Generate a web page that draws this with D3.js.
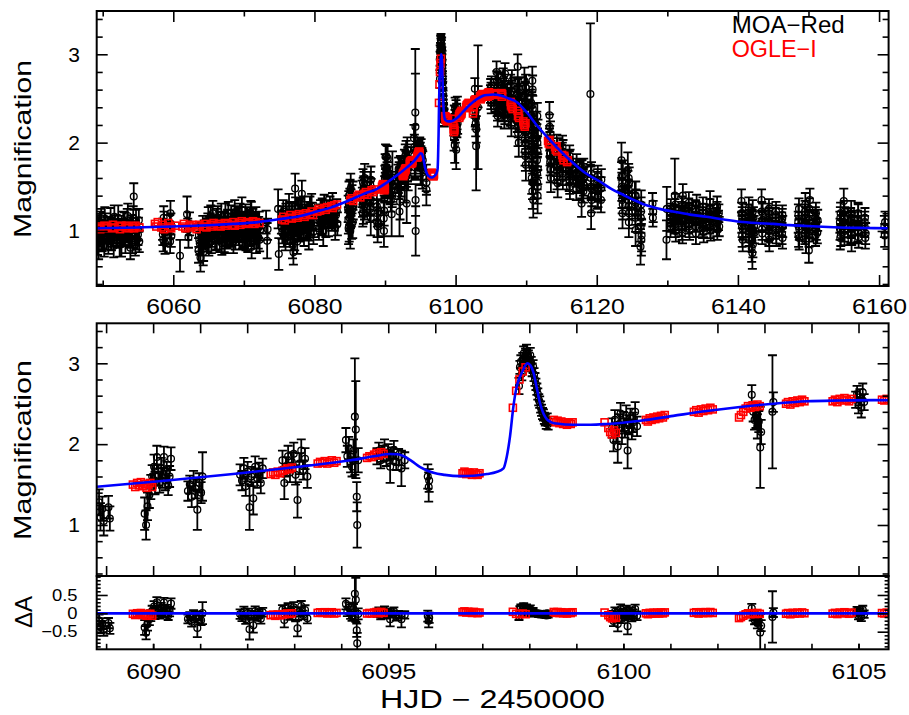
<!DOCTYPE html>
<html>
<head>
<meta charset="utf-8">
<script src="https://cdn.jsdelivr.net/npm/d3@7"></script>
<style>
  body { margin: 0; background: #fff; }
  svg { display: block; }
  text { font-family: "Liberation Sans", Arial, Helvetica, sans-serif; }
</style>
</head>
<body>
<svg id="chart" width="909" height="715"></svg>
<script>
// ---------------- MOA-Red: [HJD-2450000, magnification, error] ----------------
const moaEarly = [
  [6049.20,0.98,0.12],[6049.26,0.86,0.13],[6049.32,1.06,0.12],[6049.35,0.95,0.13],[6049.42,0.82,0.14],[6049.52,1.02,0.11],[6049.58,1.10,0.12],[6049.62,0.94,0.12],[6049.78,1.12,0.13],[6049.85,1.00,0.13],[6049.92,0.89,0.12],
  [6050.05,0.91,0.12],[6050.12,1.00,0.12],[6050.22,0.84,0.13],[6050.30,1.14,0.13],[6050.36,1.08,0.12],[6050.52,0.92,0.13],[6050.60,0.99,0.12],[6050.68,1.04,0.12],[6050.80,0.88,0.14],[6050.90,0.97,0.11],
  [6051.05,1.03,0.12],[6051.12,1.13,0.13],[6051.24,0.90,0.12],[6051.32,0.95,0.13],[6051.40,1.01,0.12],[6051.56,0.83,0.13],[6051.65,1.16,0.13],[6051.74,1.06,0.12],[6051.90,0.95,0.12],[6051.98,0.98,0.12],
  [6052.08,0.93,0.12],[6052.15,1.05,0.12],[6052.20,1.15,0.14],[6052.40,0.87,0.16],[6052.48,0.99,0.13],[6052.54,1.03,0.11],[6052.66,0.85,0.14],[6052.74,0.96,0.13],[6052.90,1.10,0.12],[6052.98,1.02,0.12],
  [6053.08,1.09,0.12],[6053.15,0.95,0.12],[6053.22,0.88,0.13],[6053.38,1.00,0.12],[6053.48,1.12,0.13],[6053.56,1.17,0.14],[6053.66,0.99,0.12],[6053.76,0.93,0.12],[6053.92,0.81,0.13],[6053.98,1.06,0.12],
  [6054.08,1.05,0.13],[6054.15,0.94,0.13],[6054.22,0.87,0.12],[6054.32,1.15,0.13],[6054.40,1.39,0.15],[6054.54,0.98,0.12],[6054.62,0.85,0.13],[6054.72,1.11,0.13],[6054.82,1.03,0.12],[6054.90,0.91,0.12],
  [6055.00,0.96,0.12],[6055.06,1.02,0.13],[6055.12,1.12,0.13],[6055.18,0.88,0.12],
  [6058.48,1.02,0.12],[6058.52,0.96,0.12],[6058.58,0.90,0.13],[6058.64,1.15,0.13],[6058.70,1.10,0.12],[6058.78,0.98,0.12],[6058.84,0.86,0.12],
  [6059.50,1.05,0.13],[6059.55,0.88,0.13],[6059.60,1.20,0.14],[6059.66,1.08,0.12],[6059.72,0.94,0.12],
  [6060.95,0.72,0.18],
  [6061.95,1.19,0.20],[6062.05,1.02,0.12],[6062.15,0.93,0.12],[6062.30,1.08,0.13],
  [6063.58,0.78,0.14],[6063.62,0.95,0.13],[6063.68,0.90,0.13],[6063.75,0.86,0.13],[6063.85,0.70,0.16],[6063.92,0.98,0.12],[6064.04,0.84,0.12],[6064.10,0.92,0.12],
  [6064.18,1.05,0.12],[6064.24,0.76,0.15],[6064.30,0.80,0.14],[6064.38,1.00,0.12],[6064.44,0.93,0.12],
  [6064.70,1.02,0.12],[6064.76,0.95,0.12],[6064.82,0.90,0.13],[6064.90,1.08,0.12],[6064.96,1.14,0.13],[6065.04,0.85,0.13],[6065.10,0.97,0.12],[6065.17,1.03,0.12],
  [6065.24,1.08,0.12],[6065.32,1.16,0.13],[6065.40,0.88,0.13],[6065.50,0.94,0.12],[6065.60,1.20,0.14],[6065.70,1.05,0.12],[6065.80,1.00,0.12],[6065.92,0.91,0.13],
  [6066.05,1.06,0.12],[6066.12,1.12,0.13],[6066.18,0.92,0.13],[6066.25,0.98,0.12],[6066.32,1.15,0.13],[6066.42,1.04,0.12],[6066.50,0.99,0.12],[6066.60,0.89,0.13],
  [6066.70,1.10,0.12],[6066.80,1.18,0.13],[6066.88,0.86,0.13],[6066.95,1.00,0.12],
  [6067.08,1.04,0.12],[6067.15,1.10,0.12],[6067.22,0.90,0.14],[6067.30,0.87,0.12],[6067.38,1.18,0.13],[6067.45,1.02,0.12],[6067.52,0.96,0.12],[6067.62,0.93,0.13],
  [6067.70,1.12,0.12],[6067.80,1.20,0.13],[6067.90,1.01,0.13],[6067.96,0.97,0.12],
  [6068.06,0.94,0.12],[6068.13,1.08,0.12],[6068.20,1.16,0.13],[6068.28,0.95,0.13],[6068.36,1.03,0.12],[6068.44,1.12,0.12],[6068.52,0.88,0.13],[6068.62,0.99,0.12],
  [6068.70,1.21,0.14],[6068.80,0.92,0.13],[6068.88,1.07,0.12],[6068.95,1.15,0.13],
  [6069.06,0.99,0.12],[6069.13,1.05,0.12],[6069.20,1.13,0.13],[6069.28,0.96,0.12],[6069.36,0.91,0.12],[6069.45,1.18,0.13],[6069.54,1.09,0.12],[6069.62,1.00,0.12],
  [6069.72,1.24,0.14],[6069.80,0.93,0.13],[6069.90,1.02,0.12],[6069.96,1.10,0.12],
  [6070.06,0.95,0.13],[6070.14,1.02,0.12],[6070.22,1.17,0.13],[6070.30,0.91,0.13],[6070.38,1.05,0.12],[6070.46,1.14,0.13],[6070.56,0.89,0.13],[6070.65,1.06,0.12],
  [6070.74,1.12,0.12],[6070.83,0.95,0.12],[6070.92,1.00,0.12],[6070.98,1.20,0.14],
  [6071.06,1.19,0.14],[6071.10,0.82,0.13],[6071.14,1.00,0.12],[6071.28,1.12,0.13],[6071.36,1.08,0.12],[6071.44,0.92,0.12],[6071.52,0.97,0.12],[6071.60,1.05,0.12],
  [6071.70,1.14,0.13],[6071.78,0.88,0.13],[6071.88,1.03,0.12],[6071.95,1.10,0.12],
  [6072.04,0.93,0.13],[6072.10,1.04,0.12],[6072.18,1.10,0.12],[6072.24,0.90,0.13],[6072.30,1.01,0.12],
  [6073.15,1.10,0.13],[6073.30,0.89,0.20],[6073.36,1.02,0.12],
  [6074.85,1.25,0.22],[6074.95,0.74,0.18],
  [6075.32,1.10,0.13],[6075.38,1.03,0.12],[6075.44,0.98,0.12],[6075.50,1.15,0.13],[6075.58,1.22,0.13],[6075.66,0.95,0.13],[6075.74,1.05,0.12],[6075.82,1.08,0.12],
  [6075.90,0.92,0.14],[6075.96,1.18,0.13],
  [6076.10,1.15,0.13],[6076.17,0.98,0.13],[6076.24,1.02,0.12],[6076.32,1.08,0.12],[6076.40,1.28,0.14],[6076.48,1.20,0.13],[6076.56,0.95,0.13],[6076.65,1.05,0.12],
  [6076.74,1.12,0.12],[6076.82,1.18,0.13],[6076.90,0.84,0.15],[6076.96,1.00,0.13],
  [6077.02,0.76,0.14],[6077.08,1.10,0.13],[6077.14,1.20,0.13],[6077.20,0.92,0.14],[6077.26,1.48,0.17],[6077.33,1.25,0.13],[6077.40,1.06,0.12],[6077.48,1.12,0.12],
  [6077.56,0.88,0.14],[6077.65,1.02,0.13],[6077.74,1.16,0.13],[6077.82,1.22,0.13],[6077.90,1.00,0.12],[6077.96,1.08,0.12],
  [6078.08,1.24,0.13],[6078.15,1.05,0.13],[6078.22,1.42,0.15],[6078.29,1.15,0.12],[6078.36,1.09,0.12],[6078.44,1.02,0.12],[6078.52,0.96,0.13],[6078.60,1.26,0.13],
  [6078.70,1.18,0.12],[6078.78,1.10,0.12],[6078.88,1.04,0.13],[6078.95,1.20,0.13],
  [6079.06,1.13,0.12],[6079.13,1.02,0.13],[6079.20,0.93,0.14],[6079.28,1.16,0.12],[6079.36,1.26,0.13],[6079.44,1.05,0.12],[6079.52,1.08,0.12],[6079.60,1.28,0.14],
  [6079.70,1.19,0.13],[6079.78,1.12,0.12],[6079.86,0.99,0.14],[6079.93,1.06,0.13],
  [6080.64,1.03,0.13],[6080.70,1.14,0.12],[6080.78,1.18,0.12],[6080.86,1.22,0.13],[6080.94,1.10,0.13],[6081.02,1.08,0.13],[6081.10,1.24,0.13],[6081.18,1.16,0.12],
  [6081.25,1.00,0.17],[6081.38,1.28,0.13],[6081.50,1.15,0.12],[6081.62,1.06,0.13],[6081.76,1.21,0.13],[6081.88,1.16,0.12],[6082.00,1.08,0.14],[6082.10,1.22,0.13],
  [6082.20,1.26,0.13],[6082.32,1.15,0.12],[6082.44,1.12,0.12],[6082.56,1.30,0.13],[6082.70,1.19,0.13],[6082.82,1.12,0.12],[6082.94,1.04,0.14],[6083.05,1.18,0.13],
  [6083.16,1.23,0.13],[6083.25,1.08,0.13],
  [6084.78,1.25,0.15],[6084.81,1.12,0.15],[6084.84,1.03,0.18],[6084.87,1.30,0.15],[6084.90,1.40,0.16],[6084.93,1.05,0.17],[6084.96,1.15,0.15],[6084.99,1.22,0.15],
  [6085.02,1.32,0.16],[6085.05,1.42,0.16],[6085.08,1.00,0.20],[6085.11,1.18,0.15],[6085.14,1.48,0.17],[6085.18,1.32,0.15],[6085.22,1.20,0.15],[6085.27,1.08,0.17],
  [6085.32,1.36,0.16],[6085.37,1.25,0.15],[6085.42,1.10,0.18],[6085.46,1.40,0.16],[6085.50,1.28,0.15],
  [6086.76,1.42,0.15],[6086.79,1.35,0.14],[6086.82,1.30,0.14],[6086.85,1.20,0.15],[6086.88,1.55,0.15],[6086.91,1.45,0.15],[6086.94,1.24,0.16],[6086.97,1.32,0.14],
  [6087.00,1.48,0.14],[6087.03,1.52,0.15],[6087.06,1.36,0.15],[6087.09,1.28,0.15],[6087.12,1.60,0.16],
  [6087.80,1.40,0.16],[6087.83,1.32,0.15],[6087.86,1.25,0.15],[6087.89,1.45,0.15],[6087.92,1.52,0.15],[6087.95,1.35,0.16],[6087.98,1.15,0.20],[6088.01,1.58,0.15],[6088.04,1.45,0.14]
];

const moaZoom = [
  [6088.85,1.28,0.16],[6088.88,1.10,0.17],[6088.92,1.20,0.15],[6088.95,1.05,0.18],[6089.05,1.22,0.14],[6089.08,1.08,0.15],
  [6089.82,1.14,0.20],[6089.85,1.00,0.18],[6089.88,1.23,0.17],[6089.92,1.37,0.16],[6089.95,1.47,0.15],[6089.98,1.60,0.14],[6090.02,1.72,0.15],[6090.04,1.52,0.14],
  [6090.08,1.84,0.14],[6090.11,1.62,0.13],[6090.14,1.52,0.12],[6090.17,1.70,0.13],[6090.20,1.58,0.12],[6090.23,1.84,0.13],[6090.26,1.55,0.12],
  [6090.29,1.66,0.12],[6090.32,1.49,0.12],[6090.35,1.60,0.13],[6090.38,1.82,0.14],
  [6090.74,1.42,0.12],[6090.78,1.50,0.11],[6090.82,1.35,0.13],[6090.86,1.55,0.12],[6090.90,1.45,0.12],[6090.94,1.19,0.25],[6090.98,1.52,0.12],[6091.02,1.40,0.13],[6091.05,1.60,0.30],
  [6091.85,1.62,0.13],[6091.89,1.55,0.12],[6091.93,1.70,0.13],[6091.97,1.48,0.12],[6092.01,1.66,0.12],[6092.05,1.22,0.28],[6092.09,1.60,0.12],
  [6092.13,1.33,0.20],[6092.17,1.72,0.13],[6092.21,1.58,0.12],[6092.25,1.65,0.12],[6092.29,1.52,0.13],[6092.33,1.70,0.12],
  [6092.75,1.80,0.12],[6092.79,1.52,0.20],[6092.83,1.72,0.12],[6092.87,1.85,0.13],[6092.91,1.65,0.12],[6092.95,1.78,0.12],[6092.99,1.88,0.14],
  [6093.03,1.62,0.12],[6093.07,1.31,0.22],[6093.11,1.76,0.13],[6093.15,1.92,0.14],[6093.19,1.68,0.12],[6093.23,1.82,0.13],[6093.28,1.60,0.14],
  [6094.10,2.05,0.15],[6094.13,1.85,0.13],[6094.16,1.95,0.14],[6094.20,1.78,0.13],[6094.23,1.72,0.12],[6094.26,1.92,0.14],[6094.29,2.34,0.72],
  [6094.31,2.18,0.60],[6094.33,1.35,0.18],[6094.34,1.00,0.28],[6094.36,1.80,0.15],
  [6094.76,1.85,0.10],[6094.80,1.92,0.10],[6094.84,1.80,0.10],[6094.88,1.88,0.10],[6094.92,1.95,0.11],[6094.96,1.83,0.10],[6095.00,1.90,0.10],
  [6095.04,1.72,0.20],[6095.08,1.86,0.10],[6095.12,1.93,0.11],[6095.17,1.78,0.10],[6095.22,1.84,0.10],[6095.28,1.70,0.22],[6095.35,1.80,0.10],
  [6095.84,1.60,0.15],[6095.86,1.47,0.18],[6095.87,1.55,0.14],
  [6097.78,2.72,0.10],[6097.80,2.95,0.08],[6097.82,3.02,0.08],[6097.84,2.87,0.08],[6097.86,3.05,0.08],[6097.88,3.12,0.09],[6097.90,3.00,0.08],
  [6097.92,3.10,0.08],[6097.94,3.14,0.09],[6097.96,3.04,0.08],[6097.98,3.08,0.08],[6098.00,2.98,0.08],[6098.02,3.10,0.09],[6098.04,3.00,0.08],
  [6098.06,2.92,0.08],[6098.08,2.96,0.08],[6098.10,2.86,0.08],[6098.12,2.80,0.08],[6098.14,2.74,0.07],[6098.16,2.68,0.07],[6098.18,2.62,0.07],
  [6098.20,2.55,0.07],[6098.22,2.52,0.07],[6098.24,2.46,0.07],[6098.26,2.42,0.07],[6098.28,2.38,0.07],[6098.30,2.36,0.07],[6098.32,2.32,0.07],
  [6098.34,2.30,0.07],[6098.36,2.26,0.07],[6098.38,2.31,0.07],[6098.40,2.25,0.07],
  [6099.76,2.20,0.12],[6099.79,2.05,0.14],[6099.82,2.30,0.12],[6099.85,2.15,0.12],[6099.88,1.97,0.20],[6099.91,2.25,0.12],[6099.94,2.38,0.13],
  [6099.97,2.12,0.12],[6100.00,2.28,0.12],[6100.03,2.20,0.12],[6100.06,2.35,0.13],[6100.09,1.92,0.22],[6100.12,2.24,0.12],[6100.15,2.32,0.12],
  [6100.18,2.18,0.12],[6100.21,2.27,0.12],[6100.25,2.40,0.12],[6100.29,2.22,0.12],
  [6102.73,2.61,0.12],[6102.76,2.40,0.12],[6102.79,2.30,0.12],[6102.82,2.35,0.15],[6102.85,2.22,0.15],[6102.88,2.28,0.13],[6102.91,1.96,0.50],[6102.93,2.15,0.15],
  [6103.17,2.40,0.70],[6103.19,2.52,0.12],
  [6104.94,2.55,0.10],[6104.97,2.62,0.10],[6105.00,2.48,0.10],[6105.03,2.58,0.10],[6105.06,2.45,0.12],[6105.09,2.64,0.11],[6105.12,2.52,0.10]
];

const moaLate = [
  [6105.80,2.80,0.12],[6105.82,2.45,0.10],[6105.84,2.55,0.10],[6105.86,2.70,0.11],[6105.88,2.40,0.10],[6105.90,2.52,0.10],[6105.92,2.62,0.10],[6105.94,2.36,0.11],
  [6105.96,2.30,0.12],[6105.98,2.58,0.10],[6106.00,2.48,0.10],[6106.02,2.42,0.10],[6106.04,2.68,0.11],[6106.06,2.55,0.10],[6106.08,2.35,0.10],
  [6106.70,2.52,0.10],[6106.72,2.35,0.11],[6106.75,2.72,0.12],[6106.78,2.62,0.11],[6106.80,2.40,0.10],[6106.82,2.50,0.10],[6106.85,2.60,0.10],[6106.88,2.44,0.10],
  [6106.90,2.28,0.12],[6106.92,2.66,0.11],[6106.95,2.48,0.10],[6106.98,2.32,0.11],[6107.00,2.78,0.12],[6107.02,2.56,0.10],[6107.05,2.38,0.10],
  [6107.70,2.50,0.12],[6107.72,2.40,0.11],[6107.75,2.30,0.11],[6107.78,2.55,0.12],[6107.80,2.65,0.12],[6107.82,2.28,0.12],[6107.85,2.42,0.11],[6107.88,2.50,0.11],
  [6107.90,2.20,0.13],[6107.92,2.36,0.12],[6107.95,2.58,0.12],[6107.98,2.70,0.12],[6108.00,2.35,0.11],
  [6108.70,2.55,0.12],[6108.72,2.40,0.12],[6108.75,2.25,0.13],[6108.78,2.62,0.12],[6108.80,2.86,0.14],[6108.82,2.35,0.13],[6108.85,2.11,0.15],[6108.88,2.20,0.14],
  [6108.90,2.45,0.12],[6108.92,2.52,0.12],[6108.95,2.00,0.16],[6108.98,2.28,0.13],[6109.00,2.62,0.12],[6109.02,2.45,0.12],[6109.05,2.32,0.12],
  [6109.75,2.70,0.15],[6109.76,2.52,0.15],[6109.78,2.40,0.14],[6109.80,2.28,0.15],[6109.81,2.15,0.15],[6109.83,2.05,0.16],[6109.84,1.90,0.16],[6109.86,2.40,0.15],
  [6109.87,2.55,0.14],[6109.89,1.85,0.17],[6109.90,2.25,0.15],[6109.92,2.62,0.15],[6109.93,2.00,0.16],[6109.95,2.12,0.16],[6109.96,1.75,0.18],[6109.98,2.45,0.15],
  [6109.99,2.62,0.15],[6110.02,2.35,0.14],
  [6110.70,2.45,0.15],[6110.72,2.25,0.15],[6110.73,2.10,0.15],[6110.75,1.98,0.16],[6110.76,1.85,0.17],[6110.78,2.42,0.15],[6110.79,1.60,0.18],[6110.81,1.75,0.18],
  [6110.82,2.30,0.15],[6110.84,2.15,0.16],[6110.85,1.95,0.16],[6110.87,2.70,0.16],[6110.88,1.45,0.20],[6110.90,1.55,0.19],[6110.91,2.60,0.16],[6110.93,2.38,0.15],
  [6110.94,1.70,0.17],[6110.96,1.88,0.17],[6110.97,2.05,0.15],[6110.99,2.20,0.15],[6111.00,1.35,0.20],
  [6111.50,2.20,0.15],[6111.52,2.05,0.16],[6111.53,1.80,0.17],[6111.55,1.65,0.18],[6111.56,1.55,0.18],[6111.58,2.30,0.15],[6111.59,2.00,0.16],[6111.61,1.90,0.17],
  [6111.62,1.40,0.20],[6111.64,1.50,0.19],[6111.65,1.70,0.17],[6111.67,2.10,0.16],
  [6113.30,2.31,0.15],[6113.32,2.18,0.14],[6113.34,2.05,0.14],[6113.36,1.98,0.14],[6113.38,1.88,0.14],[6113.40,1.78,0.15],[6113.42,1.70,0.15],[6113.44,2.10,0.14],
  [6113.46,1.95,0.13],[6113.48,1.88,0.14],[6113.50,1.60,0.16],[6113.52,1.70,0.15],[6113.54,1.80,0.14],
  [6114.30,1.75,0.13],[6114.32,1.85,0.13],[6114.34,1.95,0.14],[6114.36,1.68,0.14],[6114.38,1.62,0.15],[6114.40,1.92,0.13],[6114.42,1.85,0.13],[6114.44,1.72,0.14],[6114.46,1.54,0.16],
  [6115.05,1.85,0.12],[6115.07,1.78,0.12],[6115.10,1.70,0.12],[6115.12,1.88,0.12],[6115.15,1.95,0.13],[6115.17,1.65,0.13],[6115.20,1.60,0.13],[6115.22,1.90,0.13],[6115.25,1.78,0.12],
  [6116.05,1.72,0.12],[6116.07,1.65,0.12],[6116.10,1.58,0.13],[6116.12,1.78,0.12],[6116.15,1.85,0.12],[6116.17,1.55,0.13],[6116.20,1.50,0.14],[6116.22,1.80,0.12],[6116.25,1.66,0.12],
  [6117.05,1.62,0.12],[6117.07,1.70,0.12],[6117.10,1.48,0.13],[6117.12,1.56,0.12],[6117.15,1.75,0.12],[6117.17,1.66,0.12],[6117.20,1.55,0.12],
  [6117.85,1.31,0.15],[6117.88,1.50,0.13],[6117.90,1.68,0.12],
  [6118.05,1.58,0.12],[6118.07,1.64,0.12],[6118.10,1.45,0.13],[6118.12,1.52,0.12],[6118.15,1.70,0.12],[6118.17,1.60,0.12],[6118.20,1.52,0.12],
  [6119.10,2.55,0.80],[6119.15,1.50,0.13],[6119.17,1.60,0.13],[6119.20,1.20,0.18],[6119.22,1.48,0.13],[6119.25,1.65,0.13],[6119.27,1.35,0.14],[6119.30,1.40,0.12],
  [6120.05,1.55,0.12],[6120.07,1.48,0.12],[6120.10,1.38,0.13],[6120.12,1.58,0.12],[6120.15,1.62,0.12],[6120.17,1.40,0.13],[6120.20,1.45,0.12],
  [6120.60,1.35,0.14],[6120.62,1.48,0.13],[6120.65,1.58,0.12],
  [6123.50,1.80,0.20],[6123.52,1.62,0.16],[6123.55,1.50,0.16],[6123.58,1.42,0.16],[6123.60,1.35,0.15],[6123.62,1.55,0.15],[6123.65,1.20,0.17],[6123.68,1.30,0.17],[6123.70,1.62,0.18],
  [6124.40,1.69,0.20],[6124.42,1.52,0.16],[6124.45,1.42,0.16],[6124.48,1.35,0.16],[6124.50,1.28,0.15],[6124.52,1.60,0.16],[6124.55,1.10,0.17],[6124.58,1.20,0.17],[6124.60,1.55,0.17],
  [6125.40,1.40,0.16],[6125.42,1.30,0.16],[6125.45,1.22,0.15],[6125.48,1.15,0.16],[6125.50,1.01,0.18],[6125.52,1.40,0.16],[6125.55,1.32,0.15],
  [6126.20,0.82,0.20],[6126.22,1.05,0.17],[6126.25,1.15,0.17],[6126.28,1.22,0.16],[6126.30,1.30,0.16],[6126.32,0.90,0.18],[6126.35,0.95,0.18],
  [6127.90,1.31,0.12],[6127.95,1.15,0.10],[6128.00,1.22,0.12],
  [6129.88,0.90,0.22],[6129.92,1.25,0.25],
  [6130.40,1.15,0.10],[6130.42,1.10,0.11],[6130.45,1.05,0.12],[6130.48,1.20,0.11],[6130.50,1.25,0.11],
  [6131.00,1.20,0.10],[6131.03,1.12,0.11],[6131.06,1.40,0.42],[6131.08,1.25,0.11],[6131.10,1.08,0.11],[6131.13,1.05,0.12],[6131.15,1.30,0.12],[6131.18,1.18,0.11],[6131.20,1.00,0.12],
  [6131.95,1.18,0.10],[6131.98,1.12,0.11],[6132.00,1.05,0.11],[6132.03,1.22,0.11],[6132.05,1.28,0.11],[6132.08,1.02,0.12],[6132.10,1.12,0.10],[6132.13,1.18,0.11],[6132.15,0.98,0.12],[6132.20,1.40,0.13],
  [6132.95,1.22,0.10],[6132.98,1.15,0.11],[6133.00,1.08,0.11],[6133.03,1.26,0.11],[6133.05,1.32,0.12],[6133.08,1.05,0.12],[6133.10,1.15,0.10],[6133.13,1.20,0.11],[6133.15,1.02,0.12],
  [6133.95,1.10,0.11],[6133.98,1.18,0.11],[6134.00,1.25,0.10],[6134.03,1.05,0.12],[6134.05,0.97,0.12],[6134.08,1.22,0.11],[6134.10,1.18,0.10],[6134.13,1.10,0.11],[6134.15,1.30,0.11],
  [6134.95,1.14,0.10],[6134.98,1.20,0.11],[6135.00,1.03,0.11],[6135.03,1.08,0.12],[6135.05,1.27,0.11],[6135.08,1.16,0.11],[6135.10,1.10,0.10],[6135.13,1.05,0.12],[6135.15,0.99,0.12],
  [6135.95,1.20,0.10],[6135.98,1.14,0.11],[6136.00,1.08,0.11],[6136.03,1.25,0.11],[6136.05,1.33,0.12],[6136.08,1.04,0.12],[6136.10,1.12,0.10],[6136.13,1.18,0.11],[6136.15,1.01,0.12],
  [6136.95,1.16,0.10],[6136.98,1.10,0.11],[6137.00,1.05,0.11],[6137.03,1.22,0.11],[6137.05,1.28,0.11],[6137.08,1.02,0.12],[6137.10,1.10,0.10],[6137.25,1.12,0.11],[6137.30,1.20,0.10],[6137.35,1.05,0.11],
  [6140.50,1.34,0.13],[6140.52,1.20,0.12],[6140.55,1.10,0.12],[6140.58,1.05,0.12],[6140.60,0.95,0.13],[6140.62,1.15,0.12],[6140.65,1.20,0.12],[6140.68,0.90,0.13],[6140.70,1.02,0.12],
  [6141.45,1.15,0.12],[6141.47,1.05,0.12],[6141.50,1.00,0.13],[6141.52,1.18,0.12],[6141.55,1.26,0.12],[6141.58,0.96,0.13],[6141.60,0.90,0.13],[6141.62,1.12,0.12],[6141.65,1.08,0.12],
  [6141.95,0.81,0.16],[6141.98,1.02,0.13],[6142.00,1.12,0.12],[6142.02,0.90,0.14],[6142.05,0.75,0.18],[6142.08,1.10,0.12],[6142.10,1.22,0.13],[6142.12,0.85,0.15],
  [6142.15,0.98,0.12],[6142.20,1.15,0.12],[6142.30,1.05,0.12],[6142.35,0.98,0.12],
  [6143.35,1.35,0.12],[6143.37,1.22,0.11],[6143.40,1.10,0.11],[6143.42,1.02,0.12],[6143.45,0.97,0.12],[6143.48,1.12,0.11],[6143.50,1.20,0.11],
  [6144.30,1.12,0.11],[6144.32,1.20,0.11],[6144.35,1.00,0.12],[6144.38,0.95,0.12],[6144.40,1.25,0.11],[6144.42,1.15,0.11],[6144.45,0.90,0.13],[6144.48,1.02,0.12],[6144.50,1.08,0.11],
  [6145.30,1.15,0.11],[6145.32,1.08,0.11],[6145.35,1.03,0.12],[6145.38,1.18,0.11],[6145.40,1.22,0.11],[6145.42,0.98,0.12],[6145.45,0.95,0.12],
  [6146.20,1.10,0.11],[6146.22,1.05,0.11],[6146.25,0.97,0.12],[6146.28,1.14,0.11],[6146.30,1.18,0.11],[6146.32,0.92,0.12],[6146.35,1.05,0.12],
  [6148.55,1.10,0.12],[6148.57,1.18,0.12],[6148.60,0.95,0.13],[6148.62,1.05,0.12],[6148.65,1.25,0.12],[6148.68,0.92,0.13],[6148.70,1.02,0.12],
  [6149.45,1.18,0.12],[6149.47,1.10,0.12],[6149.50,0.97,0.12],[6149.52,1.22,0.12],[6149.55,1.30,0.13],[6149.58,1.00,0.12],[6149.60,1.06,0.12],[6149.62,1.15,0.12],[6149.65,0.88,0.13],
  [6150.05,0.78,0.14],[6150.07,0.95,0.13],[6150.10,1.12,0.12],[6150.12,1.25,0.12],[6150.15,1.00,0.12],[6150.18,1.05,0.12],[6150.20,1.35,0.13],
  [6150.95,1.08,0.12],[6150.97,1.15,0.12],[6151.00,0.95,0.12],[6151.02,1.02,0.12],[6151.05,1.20,0.12],[6151.08,1.12,0.12],[6151.10,1.02,0.12],[6151.25,0.98,0.12],[6151.30,1.12,0.12],
  [6154.45,1.10,0.12],[6154.47,1.02,0.12],[6154.50,0.92,0.13],[6154.52,1.15,0.12],[6154.55,1.20,0.12],[6154.58,0.95,0.12],[6154.60,1.02,0.12],
  [6155.00,1.34,0.14],[6155.02,1.10,0.12],[6155.05,1.05,0.12],[6155.08,1.22,0.12],[6155.10,0.96,0.12],[6155.12,1.00,0.12],[6155.15,1.15,0.12],
  [6155.95,1.10,0.11],[6155.97,1.15,0.11],[6156.00,0.98,0.12],[6156.02,1.04,0.12],[6156.05,1.22,0.12],[6156.08,1.12,0.11],[6156.10,0.90,0.13],[6156.12,0.96,0.12],[6156.15,1.06,0.11],
  [6156.95,1.12,0.11],[6156.97,1.06,0.11],[6157.00,1.00,0.12],[6157.02,1.20,0.12],[6157.05,1.18,0.12],[6157.08,0.98,0.12],[6157.10,0.93,0.12],
  [6157.95,1.05,0.12],[6157.97,1.10,0.12],[6158.00,1.15,0.11],[6158.05,0.92,0.12],[6158.10,0.97,0.12],
  [6160.75,1.05,0.12],[6160.80,0.95,0.13],[6160.85,1.10,0.12]
];

// ---------------- OGLE-I: [HJD-2450000, magnification] ----------------
const ogleEarly = [
  [6049.25,1.03],[6049.45,1.05],[6049.65,1.02],[6050.25,1.06],[6050.45,1.03],[6050.65,1.05],[6051.25,1.04],[6051.45,1.07],[6051.65,1.03],
  [6052.25,1.05],[6052.45,1.02],[6052.65,1.06],[6053.25,1.04],[6053.45,1.06],[6053.65,1.03],[6054.25,1.05],[6054.45,1.03],[6054.65,1.06],[6055.20,1.04],
  [6057.40,1.08],[6057.60,1.05],[6057.80,1.10],[6058.30,1.04],[6058.50,1.07],[6058.70,1.02],[6059.30,1.09],[6059.50,1.05],[6059.70,1.03],[6060.30,1.06],
  [6061.30,1.05],[6061.50,1.08],[6061.70,1.03],[6062.30,1.06],[6062.50,1.04],[6062.70,1.07],[6063.30,1.02],[6063.50,1.05],[6063.70,1.07],
  [6064.30,1.05],[6064.50,1.08],[6064.70,1.04],[6065.30,1.07],[6065.50,1.05],[6065.70,1.09],[6066.30,1.06],[6066.50,1.08],[6066.70,1.05],
  [6067.30,1.09],[6067.50,1.06],[6067.70,1.08],[6068.30,1.07],[6068.50,1.10],[6068.70,1.06],[6069.30,1.09],[6069.50,1.07],[6069.70,1.11],
  [6070.30,1.08],[6070.50,1.10],[6070.70,1.09],[6071.30,1.11],[6071.50,1.08],[6071.70,1.10],[6072.20,1.09],
  [6075.40,1.13],[6075.60,1.16],[6075.80,1.12],[6076.40,1.15],[6076.60,1.18],[6076.80,1.14],[6077.40,1.17],[6077.60,1.15],[6077.80,1.19],
  [6078.40,1.18],[6078.60,1.16],[6078.80,1.20],[6079.40,1.19],[6079.60,1.22],[6079.80,1.18],
  [6080.40,1.22],[6080.60,1.25],[6080.80,1.23],[6081.40,1.26],[6081.60,1.24],[6081.80,1.27],[6082.40,1.28],[6082.60,1.26],[6082.80,1.29],[6083.20,1.30],
  [6085.10,1.35],[6085.30,1.37],[6085.50,1.34],[6086.10,1.39],[6086.30,1.41],[6086.50,1.38],[6087.10,1.42],[6087.30,1.44],[6087.50,1.41],
  [6088.10,1.46],[6088.30,1.44],[6088.50,1.47]
];

const ogleZoom = [
  [6089.57,1.50],[6089.62,1.47],[6089.66,1.52],[6089.70,1.49],[6089.74,1.53],[6089.78,1.48],[6089.82,1.51],[6089.86,1.46],[6089.90,1.50],[6089.94,1.52],[6089.98,1.47],
  [6092.50,1.63],[6092.55,1.65],[6092.60,1.62],[6092.65,1.66],[6092.70,1.64],[6092.75,1.67],[6092.80,1.68],[6092.85,1.70],[6092.90,1.69],[6092.95,1.71],
  [6093.50,1.76],[6093.55,1.78],[6093.60,1.77],[6093.65,1.79],[6093.70,1.76],[6093.75,1.78],[6093.80,1.80],[6093.85,1.77],[6093.90,1.79],
  [6094.55,1.83],[6094.60,1.85],[6094.65,1.84],[6094.70,1.87],[6094.75,1.89],[6094.80,1.86],[6094.85,1.90],[6094.90,1.88],
  [6096.58,1.64],[6096.62,1.66],[6096.66,1.63],[6096.70,1.65],[6096.74,1.64],[6096.78,1.62],[6096.82,1.65],[6096.86,1.63],[6096.90,1.62],[6096.94,1.64],
  [6097.65,2.45],[6097.72,2.66],[6097.79,2.80],[6097.86,2.90],[6097.92,2.95],
  [6098.52,2.30],[6098.56,2.27],[6098.60,2.29],[6098.64,2.26],[6098.68,2.28],[6098.72,2.25],[6098.76,2.27],[6098.80,2.24],[6098.84,2.26],[6098.88,2.25],[6098.92,2.27],
  [6099.60,2.27],[6099.68,2.20],[6099.72,2.15],[6099.76,2.12],[6099.80,2.17],[6099.84,2.14],
  [6100.48,2.30],[6100.52,2.28],[6100.56,2.32],[6100.60,2.30],[6100.64,2.33],[6100.68,2.31],[6100.72,2.34],[6100.76,2.32],[6100.80,2.35],[6100.84,2.33],[6100.88,2.36],
  [6101.50,2.40],[6101.55,2.42],[6101.60,2.39],[6101.65,2.43],[6101.70,2.41],[6101.75,2.44],[6101.80,2.42],[6101.85,2.45],[6101.90,2.43],
  [6102.46,2.33],[6102.50,2.36],[6102.55,2.40],[6102.60,2.44],[6102.65,2.47],[6102.70,2.45],[6102.75,2.48],[6102.80,2.46],[6102.85,2.49],[6102.90,2.47],
  [6103.46,2.50],[6103.50,2.52],[6103.55,2.49],[6103.60,2.53],[6103.65,2.51],[6103.70,2.54],[6103.75,2.52],[6103.80,2.55],[6103.85,2.53],
  [6104.45,2.53],[6104.50,2.55],[6104.55,2.52],[6104.60,2.56],[6104.65,2.54],[6104.70,2.57],[6104.75,2.55],[6104.80,2.53],[6104.85,2.56],
  [6105.50,2.55],[6105.55,2.54],[6105.60,2.56]
];

const ogleLate = [
  [6106.45,2.54],[6106.50,2.56],[6106.55,2.52],[6106.60,2.55],
  [6107.80,2.46],[6107.85,2.42],[6107.90,2.44],[6108.00,2.40],[6108.10,2.38],
  [6108.80,2.36],[6108.85,2.30],[6108.90,2.33],[6109.00,2.28],
  [6109.60,2.24],[6109.70,2.20],[6109.80,2.18],[6109.90,2.22],
  [6113.10,2.02],[6113.20,1.99],[6113.30,2.03],[6113.40,1.98],[6114.10,1.95],[6114.20,1.92],[6114.30,1.96],[6114.40,1.90],
  [6115.10,1.86],[6115.20,1.83],[6115.30,1.80],[6115.40,1.85],[6115.80,1.78],[6115.90,1.80]
];

// ---------------- best-fit model: [HJD-2450000, magnification] ----------------
const model = [
  [6049.0,1.030],[6055.0,1.040],[6060.0,1.050],[6065.0,1.065],[6068.5,1.080],[6072.0,1.100],[6075.6,1.140],[6078.0,1.170],
  [6080.3,1.220],[6082.5,1.270],[6085.0,1.350],[6087.0,1.420],[6088.8,1.474],[6090.3,1.550],[6091.7,1.630],[6093.1,1.720],
  [6094.2,1.800],[6094.7,1.850],[6095.04,1.878],[6095.2,1.875],[6095.32,1.853],[6095.5,1.790],[6095.67,1.720],[6095.96,1.645],
  [6096.2,1.620],[6096.53,1.605],[6096.81,1.610],[6097.1,1.630],[6097.3,1.655],[6097.45,1.700],[6097.52,1.845],[6097.59,2.100],
  [6097.66,2.460],[6097.73,2.710],[6097.79,2.820],[6097.84,2.880],[6097.90,2.960],[6097.96,3.000],[6098.03,2.970],[6098.09,2.880],
  [6098.16,2.690],[6098.23,2.500],[6098.30,2.380],[6098.37,2.310],[6098.47,2.270],[6098.58,2.255],[6098.94,2.240],[6099.30,2.240],
  [6099.65,2.250],[6100.36,2.290],[6101.06,2.350],[6101.77,2.410],[6102.48,2.460],[6103.19,2.500],[6103.90,2.530],[6104.61,2.540],
  [6105.33,2.545],[6106.5,2.530],[6107.5,2.500],[6108.64,2.460],[6110.0,2.350],[6111.47,2.200],[6112.9,2.070],[6114.3,1.950],
  [6116.66,1.770],[6118.5,1.650],[6120.44,1.560],[6122.0,1.480],[6123.74,1.410],[6125.4,1.345],[6127.05,1.290],[6128.9,1.250],
  [6130.8,1.220],[6133.2,1.185],[6135.55,1.160],[6138.0,1.130],[6140.27,1.105],[6142.6,1.090],[6144.99,1.080],[6147.3,1.066],
  [6149.7,1.057],[6152.0,1.048],[6154.4,1.040],[6158.0,1.034],[6161.5,1.030]
];

// ---------------- axis ticks and labels ----------------
const topXMajor = [6060, 6080, 6100, 6120, 6140, 6160];
const topXMinor = [6050, 6070, 6090, 6110, 6130, 6150];
const magMajor = [1, 2, 3];
const magMinor = [0.4, 0.6, 0.8, 1.2, 1.4, 1.6, 1.8, 2.2, 2.4, 2.6, 2.8, 3.2, 3.4];
const zoomXTicks = [6089, 6090, 6091, 6092, 6093, 6094, 6095, 6096, 6097, 6098, 6099, 6100, 6101, 6102, 6103, 6104, 6105];
const zoomXLabels = [6090, 6095, 6100, 6105];
const resMajor = [-0.5, 0, 0.5];
const resMinor = [-0.9, -0.8, -0.7, -0.6, -0.4, -0.3, -0.2, -0.1, 0.1, 0.2, 0.3, 0.4, 0.6, 0.7, 0.8, 0.9, 1.0];

// ---------------- layout ----------------
const L = 96.7, R = 888.6;
const svg = d3.select('#chart');

const xTop = d3.scaleLinear().domain([6049.15, 6161.35]).range([L, R]);
const yTop = d3.scaleLinear().domain([0.377, 3.49]).range([286, 11]);
const xZoom = d3.scaleLinear().domain([6088.8, 6105.64]).range([L, R]);
const yMid = d3.scaleLinear().domain([0.369, 3.495]).range([576, 323.3]);
const yRes = d3.scaleLinear().domain([-0.98, 1.017]).range([649.3, 576]);

const moa = moaEarly.concat(moaZoom, moaLate);
const ogle = ogleEarly.concat(ogleZoom, ogleLate);
const modelAt = d3.scaleLinear().domain(model.map(d => d[0])).range(model.map(d => d[1])).clamp(true);

const inZoom = d => d[0] >= 6088.6 && d[0] <= 6105.8;
const moaRes = moa.filter(inZoom).map(d => [d[0], d[1] - modelAt(d[0]), d[2]]);
const ogleRes = ogle.filter(inZoom).map(d => [d[0], d[1] - modelAt(d[0])]);

const defs = svg.append('defs');
function clipFor(id, x, y) {
  const [x0, x1] = x.range(), [y0, y1] = y.range();
  defs.append('clipPath').attr('id', id).append('rect')
    .attr('x', x0).attr('y', Math.min(y0, y1)).attr('width', x1 - x0).attr('height', Math.abs(y0 - y1));
}

function drawData(g, x, y, moaPts, oglePts, line) {
  const cap = 4.5;
  let p = '';
  moaPts.forEach(d => {
    const px = x(d[0]), y1 = y(d[1] - d[2]), y2 = y(d[1] + d[2]);
    p += `M${px},${y1}V${y2}M${px - cap},${y1}H${px + cap}M${px - cap},${y2}H${px + cap}`;
  });
  g.append('path').attr('d', p).attr('fill', 'none').attr('stroke', '#000').attr('stroke-width', 1.8);
  g.append('g').selectAll('circle').data(moaPts).join('circle')
    .attr('cx', d => x(d[0])).attr('cy', d => y(d[1])).attr('r', 3.4)
    .attr('fill', 'none').attr('stroke', '#000').attr('stroke-width', 1.3);
  g.append('g').selectAll('rect').data(oglePts).join('rect')
    .attr('x', d => x(d[0]) - 3.5).attr('y', d => y(d[1]) - 3.5).attr('width', 7).attr('height', 7)
    .attr('fill', 'none').attr('stroke', '#ff0000').attr('stroke-width', 1.6);
  g.append('path').datum(line)
    .attr('d', d3.line().x(d => x(d[0])).y(d => y(d[1])).curve(d3.curveMonotoneX))
    .attr('fill', 'none').attr('stroke', '#0000ff').attr('stroke-width', 2.6);
}

function axis(g, gen, tx, ty, fontSize) {
  const a = g.append('g').attr('transform', `translate(${tx},${ty})`).call(gen);
  a.select('.domain').remove();
  a.selectAll('line').attr('stroke', '#000').attr('stroke-width', 1.6);
  a.attr('font-family', null).attr('font-size', fontSize || 10);
  a.selectAll('text').attr('fill', '#000');
  return a;
}

function frame(g, x, y) {
  const [x0, x1] = x.range(), [y0, y1] = y.range();
  g.append('rect').attr('x', x0).attr('y', Math.min(y0, y1)).attr('width', x1 - x0).attr('height', Math.abs(y0 - y1))
    .attr('fill', 'none').attr('stroke', '#000').attr('stroke-width', 2);
}

const noLabel = () => '';

// ---------------- top panel: full light curve ----------------
clipFor('clipTop', xTop, yTop);
const gTop = svg.append('g');
drawData(gTop.append('g').attr('clip-path', 'url(#clipTop)'), xTop, yTop, moa, ogle, model);
{
  const xl = axis(gTop, d3.axisBottom(xTop).tickValues(topXMajor).tickSize(-11).tickPadding(12.7).tickFormat(d3.format('d')), 0, 286, 22);
  xl.selectAll('text').attr('textLength', 55).attr('lengthAdjust', 'spacingAndGlyphs');
  axis(gTop, d3.axisBottom(xTop).tickValues(topXMinor).tickSize(-5.5).tickFormat(noLabel), 0, 286);
  axis(gTop, d3.axisTop(xTop).tickValues(topXMajor).tickSize(-11).tickFormat(noLabel), 0, 11);
  axis(gTop, d3.axisTop(xTop).tickValues(topXMinor).tickSize(-5.5).tickFormat(noLabel), 0, 11);
  axis(gTop, d3.axisLeft(yTop).tickValues(magMajor).tickSize(-11).tickPadding(16.7).tickFormat(d3.format('d')), L, 0, 21);
  axis(gTop, d3.axisLeft(yTop).tickValues(magMinor).tickSize(-6).tickFormat(noLabel), L, 0);
  axis(gTop, d3.axisRight(yTop).tickValues(magMajor).tickSize(-11).tickFormat(noLabel), R, 0);
  axis(gTop, d3.axisRight(yTop).tickValues(magMinor).tickSize(-6).tickFormat(noLabel), R, 0);
}
frame(gTop, xTop, yTop);

// ---------------- middle panel: anomaly close-up ----------------
clipFor('clipMid', xZoom, yMid);
const gMid = svg.append('g');
drawData(gMid.append('g').attr('clip-path', 'url(#clipMid)'), xZoom, yMid,
  moa.filter(inZoom), ogle.filter(inZoom), model.filter(d => d[0] >= 6088 && d[0] <= 6106.5));
{
  axis(gMid, d3.axisBottom(xZoom).tickValues(zoomXTicks).tickSize(-10).tickFormat(noLabel), 0, 576);
  axis(gMid, d3.axisTop(xZoom).tickValues(zoomXTicks).tickSize(-10).tickFormat(noLabel), 0, 323.3);
  axis(gMid, d3.axisLeft(yMid).tickValues(magMajor).tickSize(-11).tickPadding(16.7).tickFormat(d3.format('d')), L, 0, 21);
  axis(gMid, d3.axisLeft(yMid).tickValues(magMinor).tickSize(-6).tickFormat(noLabel), L, 0);
  axis(gMid, d3.axisRight(yMid).tickValues(magMajor).tickSize(-11).tickFormat(noLabel), R, 0);
  axis(gMid, d3.axisRight(yMid).tickValues(magMinor).tickSize(-6).tickFormat(noLabel), R, 0);
}
frame(gMid, xZoom, yMid);

// ---------------- bottom panel: residuals from the model ----------------
clipFor('clipRes', xZoom, yRes);
const gRes = svg.append('g');
drawData(gRes.append('g').attr('clip-path', 'url(#clipRes)'), xZoom, yRes, moaRes, ogleRes,
  [[6088.8, 0], [6105.64, 0]]);
{
  const fmt = d => d === 0 ? '0' : (d < 0 ? '\u2212' + Math.abs(d) : String(d));
  const xl = axis(gRes, d3.axisBottom(xZoom).tickValues(zoomXLabels).tickSize(-5.5).tickPadding(13.7).tickFormat(d3.format('d')), 0, 649.3, 22);
  xl.selectAll('text').attr('textLength', 55).attr('lengthAdjust', 'spacingAndGlyphs');
  axis(gRes, d3.axisBottom(xZoom).tickValues(zoomXTicks).tickSize(-5.5).tickFormat(noLabel), 0, 649.3);
  const yl = axis(gRes, d3.axisLeft(yRes).tickValues(resMajor).tickSize(-11).tickPadding(16.7).tickFormat(fmt), L, 0, 16);
  yl.selectAll('text').attr('transform', 'scale(1.15,1)');
  axis(gRes, d3.axisLeft(yRes).tickValues(resMinor).tickSize(-4).tickFormat(noLabel), L, 0);
  axis(gRes, d3.axisRight(yRes).tickValues(resMajor).tickSize(-11).tickFormat(noLabel), R, 0);
  axis(gRes, d3.axisRight(yRes).tickValues(resMinor).tickSize(-4).tickFormat(noLabel), R, 0);
}
frame(gRes, xZoom, yRes);

// ---------------- axis titles and legend ----------------
function vLabel(txt, cx, cy, size, len) {
  const t = svg.append('text').attr('transform', `translate(${cx},${cy}) rotate(-90)`)
    .attr('text-anchor', 'middle').attr('font-size', size).text(txt);
  if (len) t.attr('textLength', len).attr('lengthAdjust', 'spacingAndGlyphs');
}
vLabel('Magnification', 31, 149, 24.5, 178);
vLabel('Magnification', 31, 450, 24.5, 180);
vLabel('\u0394A', 32, 612, 24, 32);

svg.append('text').attr('x', 492.5).attr('y', 708).attr('text-anchor', 'middle').attr('font-size', 25)
  .attr('textLength', 225).attr('lengthAdjust', 'spacingAndGlyphs').text('HJD \u2212 2450000');

svg.append('text').attr('x', 731.7).attr('y', 33.3).attr('font-size', 23).attr('fill', '#000')
  .attr('textLength', 113).attr('lengthAdjust', 'spacingAndGlyphs').text('MOA\u2212Red');
svg.append('text').attr('x', 731.7).attr('y', 57.3).attr('font-size', 23).attr('fill', '#ff0000')
  .attr('textLength', 85).attr('lengthAdjust', 'spacingAndGlyphs').text('OGLE\u2212I');
</script>
</body>
</html>
